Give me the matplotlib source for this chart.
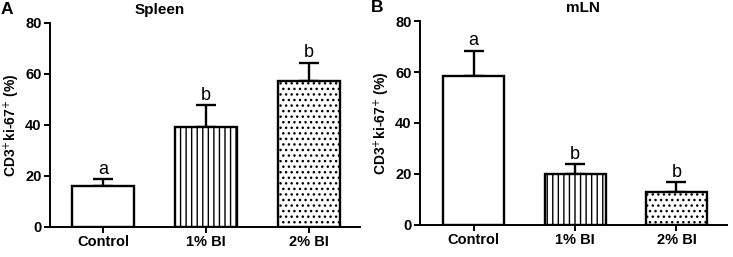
import matplotlib
matplotlib.use("Agg")
from matplotlib import pyplot as plt

plt.rcParams['font.family'] = ['Liberation Sans', 'DejaVu Sans']
plt.rcParams['hatch.linewidth'] = 1.0

groups = ['Control', '1% BI', '2% BI']
hatches = ['', '|||', '...']

spleen_mean = [16.1, 39.2, 57.3]
spleen_err = [2.6, 8.5, 7.1]
spleen_letters = ['a', 'b', 'b']

mln_mean = [58.5, 19.8, 13.1]
mln_err = [9.8, 4.0, 3.6]
mln_letters = ['a', 'b', 'b']

y_ticks = [0, 20, 40, 60, 80]
ylabel = 'CD3$^{+}$ki-67$^{+}$ (%)'


def draw_panel(ax, means, errs, letters, title, title_x, panel, xlim):
    x = list(range(len(groups)))
    for i in x:
        ax.bar(i, means[i], width=0.6, color='white', edgecolor='black',
               linewidth=1.7, hatch=hatches[i], zorder=2)
        ax.errorbar(i, means[i], yerr=[[0], [errs[i]]], color='black',
                    elinewidth=1.7, capsize=7.5, capthick=1.7, zorder=1)
        ax.text(i, means[i] + errs[i] + 0.6, letters[i], ha='center',
                va='bottom', fontsize=13)
    ax.set_xlim(*xlim)
    ax.set_ylim(0, 80)
    ax.set_yticks(y_ticks)
    ax.set_xticks(x)
    ax.set_xticklabels(groups, fontweight='bold', fontsize=10.5)
    for lab in ax.get_yticklabels():
        lab.set_fontweight('bold')
        lab.set_fontsize(10.5)
    ax.set_ylabel(ylabel, fontweight='bold', fontsize=10, labelpad=2)
    ax.spines['top'].set_visible(False)
    ax.spines['right'].set_visible(False)
    ax.spines['left'].set_linewidth(1.4)
    ax.spines['bottom'].set_linewidth(1.4)
    ax.tick_params(width=1.4, length=4, pad=2)
    ax.text(title_x, 1.03, title, transform=ax.transAxes, ha='center',
            va='bottom', fontweight='bold', fontsize=11)
    ax.text(-0.16, 1.03, panel, transform=ax.transAxes, ha='left',
            va='bottom', fontweight='bold', fontsize=12.5)


fig = plt.figure(figsize=(7.33, 2.57), dpi=100)
ax1 = fig.add_axes([0.068, 0.117, 0.423, 0.794])
ax2 = fig.add_axes([0.573, 0.125, 0.419, 0.793])

draw_panel(ax1, spleen_mean, spleen_err, spleen_letters, 'Spleen', 0.355, 'A',
           (-0.515, 2.495))
draw_panel(ax2, mln_mean, mln_err, mln_letters, 'mLN', 0.53, 'B',
           (-0.53, 2.5))

fig.savefig('out.png', dpi=100)
